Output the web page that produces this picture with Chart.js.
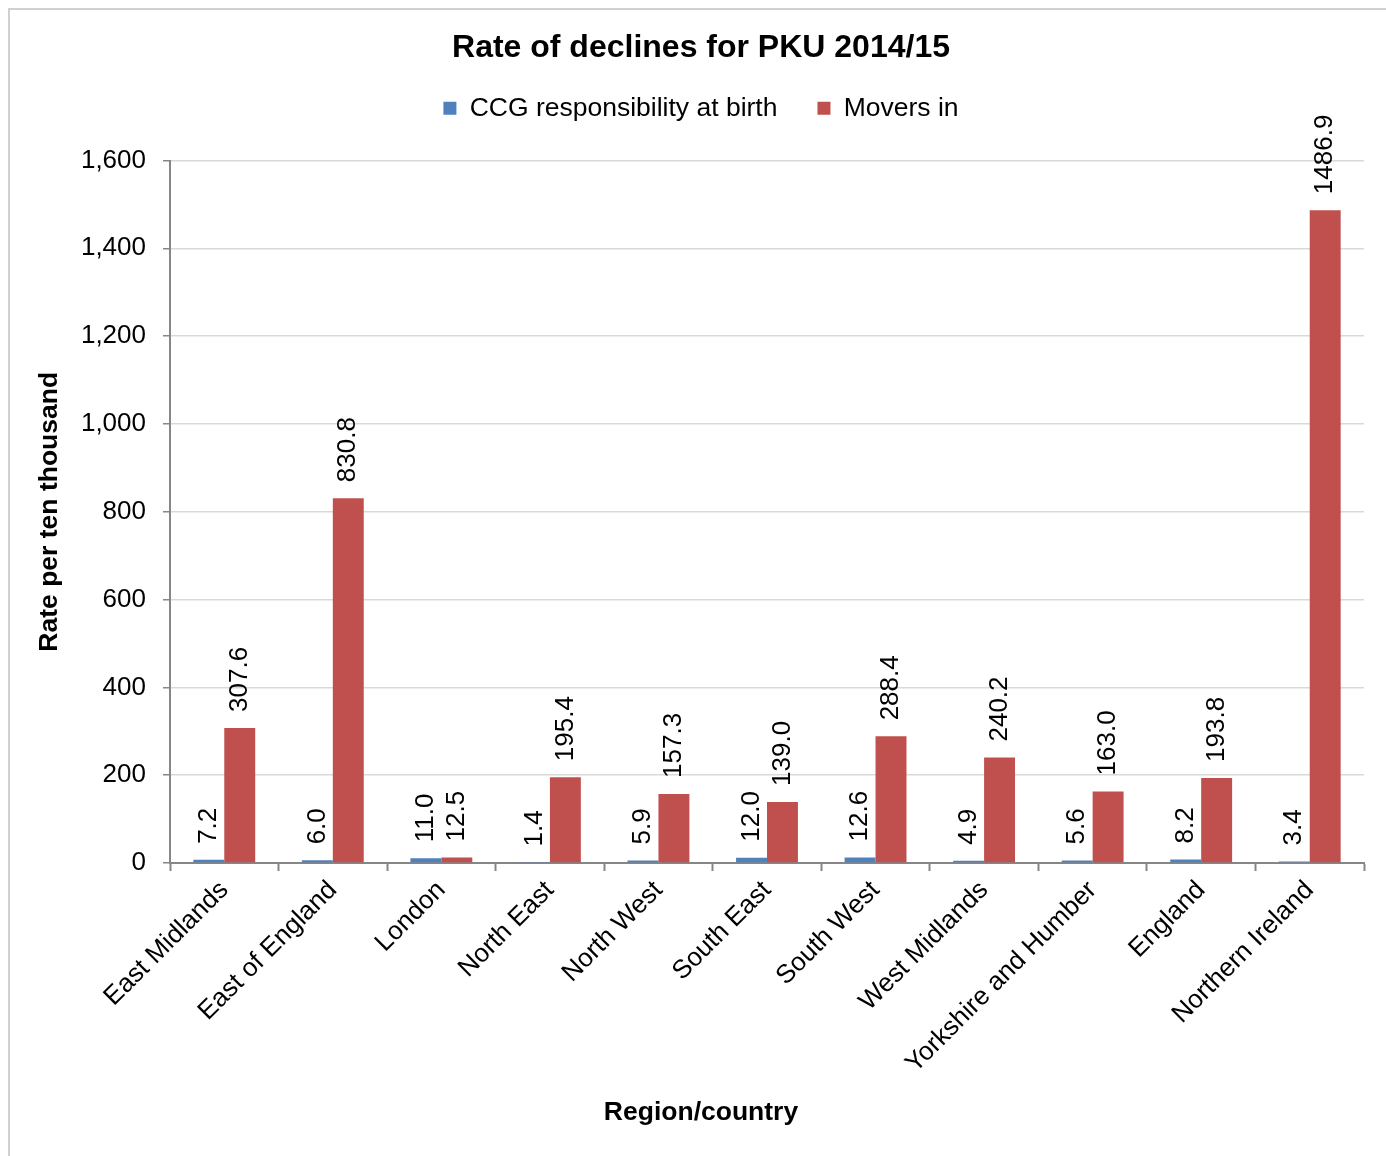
<!DOCTYPE html>
<html>
<head>
<meta charset="utf-8">
<title>Rate of declines for PKU 2014/15</title>
<script src="https://cdn.jsdelivr.net/npm/chart.js@4/dist/chart.umd.min.js"></script>
<style>
  html, body { margin: 0; padding: 0; background: #fff; overflow: hidden; }
  #frame {
    position: absolute; left: 8px; top: 8px; width: 1500px; height: 1300px;
    border-left: 2px solid #d0d0d0; border-top: 2px solid #d0d0d0;
  }
  #chart { position: absolute; left: 0; top: 0; }
</style>
</head>
<body>
<div id="frame"></div>
<canvas id="chart" width="1402" height="1156"></canvas>
<script>
// Regions and rates per ten thousand
const regions = ['East Midlands', 'East of England', 'London', 'North East', 'North West',
    'South East', 'South West', 'West Midlands', 'Yorkshire and Humber', 'England', 'Northern Ireland'];
const ccgAtBirth = [7.2, 6.0, 11.0, 1.4, 5.9, 12.0, 12.6, 4.9, 5.6, 8.2, 3.4];
const moversIn = [307.6, 830.8, 12.5, 195.4, 157.3, 139.0, 288.4, 240.2, 163.0, 193.8, 1486.9];
const yMin = 0;
const yMax = 1600;
const yStep = 200;

Chart.defaults.font.family = '"Liberation Sans", Arial, sans-serif';
Chart.defaults.color = '#000';

const axisGrey = '#868686';
const gridGrey = '#d9d9d9';

// value above each bar, written upwards
const barValueLabels = {
    id: 'barValueLabels',
    afterDatasetsDraw(chart) {
        const ctx = chart.ctx;
        ctx.save();
        ctx.font = '26px "Liberation Sans", Arial, sans-serif';
        ctx.fillStyle = '#000';
        ctx.textAlign = 'left';
        ctx.textBaseline = 'middle';
        chart.data.datasets.forEach((ds, i) => {
            chart.getDatasetMeta(i).data.forEach((bar, j) => {
                ctx.save();
                ctx.translate(bar.x, bar.y - 16);
                ctx.rotate(-Math.PI / 2);
                ctx.fillText(ds.data[j].toFixed(1), 0, 0);
                ctx.restore();
            });
        });
        ctx.restore();
    }
};

// extra room between the legend and the plot
const legendGap = {
    id: 'legendGap',
    beforeLayout(chart) {
        const legend = chart.legend;
        if (!legend || legend._gapPatched) return;
        const fit = legend.fit;
        legend.fit = function () {
            fit.call(this);
            this.height += 29;
        };
        legend._gapPatched = true;
    }
};

const ctx = document.getElementById('chart').getContext('2d');
new Chart(ctx, {
    type: 'bar',
    data: {
        labels: regions,
        datasets: [{
            label: 'CCG responsibility at birth',
            data: ccgAtBirth,
            backgroundColor: '#4f81bd',
            borderWidth: 0
        }, {
            label: 'Movers in',
            data: moversIn,
            backgroundColor: '#c0504d',
            borderWidth: 0
        }]
    },
    options: {
        responsive: false,
        animation: false,
        devicePixelRatio: 1,
        categoryPercentage: 0.57,
        barPercentage: 1.0,
        layout: { padding: 0 },
        plugins: {
            title: {
                display: true,
                text: 'Rate of declines for PKU 2014/15',
                font: { size: 32, weight: 'bold' },
                color: '#000',
                padding: { top: 29, bottom: -12.4 }
            },
            // x axis caption, centred on the whole chart
            subtitle: {
                display: true,
                position: 'bottom',
                text: 'Region/country',
                font: { size: 26.5, weight: 'bold' },
                color: '#000',
                padding: { top: 0, bottom: 27 }
            },
            legend: {
                position: 'top',
                labels: {
                    boxWidth: 13,
                    boxHeight: 13,
                    padding: 40,
                    font: { size: 26.5 },
                    color: '#000'
                }
            },
            tooltip: { enabled: false }
        },
        scales: {
            x: {
                grid: {
                    display: true,
                    drawOnChartArea: false,
                    drawTicks: true,
                    tickLength: 8,
                    tickColor: axisGrey,
                    tickWidth: 2,
                    offset: true
                },
                border: { display: true, color: axisGrey, width: 2 },
                ticks: {
                    autoSkip: false,
                    minRotation: 45,
                    maxRotation: 45,
                    padding: 4,
                    font: { size: 26 },
                    color: '#000'
                },
                afterFit(scale) { scale.height = 293 - 58.8; }
            },
            y: {
                min: yMin,
                max: yMax,
                ticks: {
                    stepSize: yStep,
                    padding: 17,
                    font: { size: 26 },
                    color: '#000'
                },
                grid: {
                    color: c => (c.tick && c.tick.value === 0) ? axisGrey : gridGrey,
                    lineWidth: 1.5,
                    tickLength: 7,
                    tickColor: axisGrey,
                    tickWidth: 1.5
                },
                border: { display: true, color: axisGrey, width: 2 },
                title: {
                    display: true,
                    text: 'Rate per ten thousand',
                    font: { size: 26.5, weight: 'bold' },
                    color: '#000',
                    padding: { top: 34, bottom: 0 }
                },
                afterFit(scale) { scale.width = 170; }
            },
            // empty strip on the right of the plot
            yRight: {
                type: 'linear',
                position: 'right',
                grid: { display: false },
                ticks: { display: false },
                border: { display: false },
                afterFit(scale) { scale.width = 38; }
            }
        }
    },
    plugins: [barValueLabels, legendGap]
});
</script>
</body>
</html>
